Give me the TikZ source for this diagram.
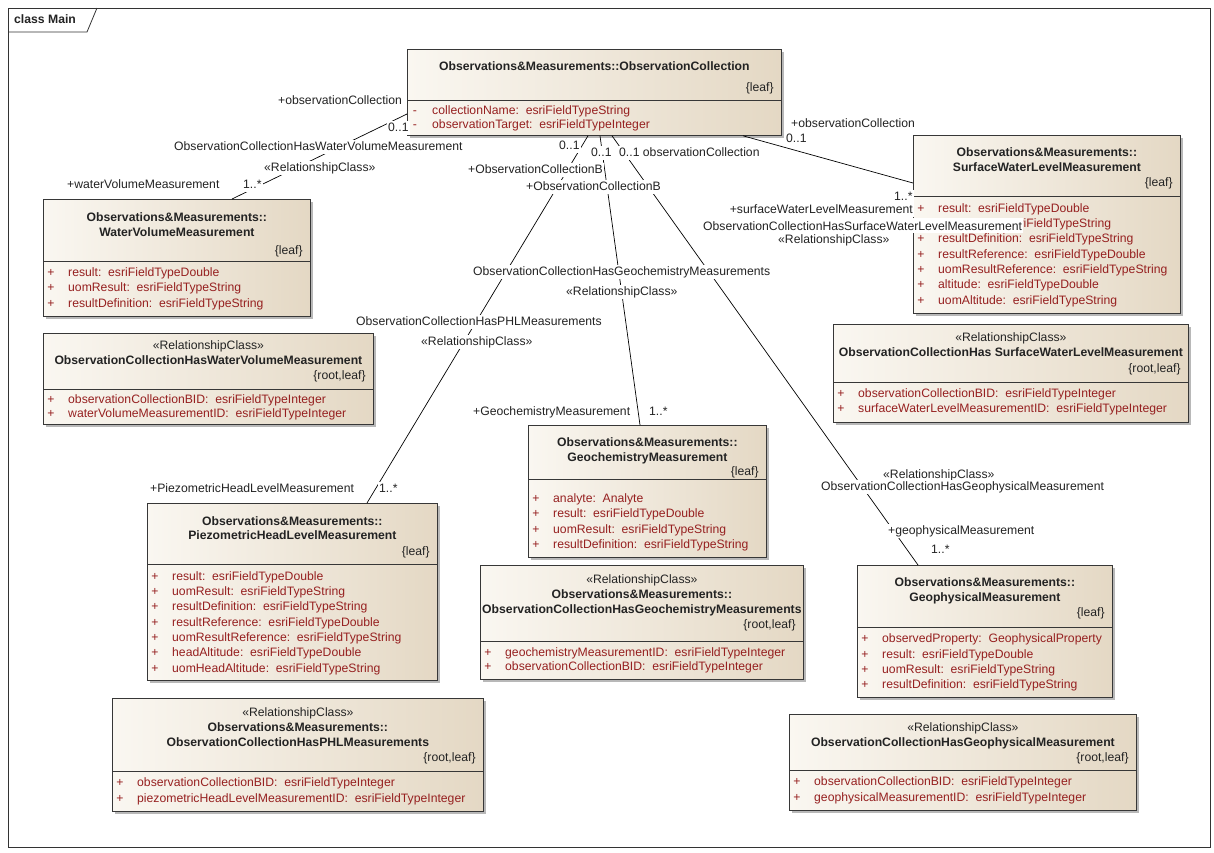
\documentclass[tikz,border=0pt]{standalone}
\usepackage{fontspec}
\setmainfont{Liberation Sans}
\usetikzlibrary{calc,shadows}

\definecolor{boxlight}{RGB}{250,247,241}
\definecolor{boxdark}{RGB}{228,216,196}
\definecolor{boxline}{RGB}{55,55,55}
\definecolor{attrred}{RGB}{150,32,32}
\definecolor{inkgray}{RGB}{35,35,35}

\newcommand\umlfont{\fontsize{12.2pt}{14pt}\selectfont}

% class box: name, left, top, right, bottom, y of the compartment line
\newcommand\umlclass[6]{%
  \node[classbox, minimum width={#4-#2}, minimum height={#5-#3}, anchor=north west] (#1) at (#2,#3) {};
  \draw[sepline] (#1.west |- 0,#6) -- (#1.east |- 0,#6);
}
% bold centred name line: box, index, y, text
\newcommand\umltitle[4]{\node[ttl] (#1-t#2) at (#1.center |- 0,#3) {#4};}
% stereotype line: box, y
\newcommand\umlstereo[2]{\node[stereo] (#1-st) at (#1.center |- 0,#2) {«RelationshipClass»};}
% right-aligned tag: box, y, text
\newcommand\umltag[3]{\node[tagtxt] (#1-tag) at ($(#1.east |- 0,#2)+(-8,0)$) {#3};}
% attribute row: box, index, y, visibility, text
\newcommand\umlattr[5]{%
  \node[attrsym] (#1-s#2) at ($(#1.west |- 0,#3)+(8,0)$) {#4};
  \node[attrtxt] (#1-a#2) at ($(#1.west |- 0,#3)+(25,0)$) {#5};
}
% association end label: name, x, y, text
\newcommand\assoclabel[4]{\node[lbl] (#1) at (#2,#3) {#4};}

\begin{document}
\begin{tikzpicture}[x=1pt,y=-1pt,
  classbox/.style={draw=boxline, line width=0.8pt, left color=boxlight, right color=boxdark,
    inner sep=0pt, drop shadow={shadow xshift=3pt, shadow yshift=-3pt, fill=black, opacity=0.28}},
  sepline/.style={draw=boxline, line width=0.8pt},
  frameline/.style={draw=black!80, line width=0.8pt},
  assoc/.style={draw=black, line width=0.7pt},
  txt/.style={font=\umlfont, inner sep=0pt, text height=8.8pt, text depth=2.6pt},
  ttl/.style={txt, font=\umlfont\bfseries, text=inkgray},
  stereo/.style={txt, text=inkgray},
  tagtxt/.style={txt, text=inkgray, anchor=east},
  attrsym/.style={txt, text=attrred, anchor=center},
  attrtxt/.style={txt, text=attrred, anchor=west},
  lbl/.style={txt, text=inkgray, fill=white, inner sep=1pt, anchor=west}]

\useasboundingbox (0,0) rectangle (1214,852);

% diagram frame with its name tab
\draw[frameline] (8,8) rectangle (1210,847);
\draw[frameline] (8,32) -- (87,32) -- (97,8);
\node[ttl, anchor=west] (frametitle) at (14,20) {class Main};

% ObservationCollection
\umlclass{oc}{407}{49}{781}{135}{100}
\umltitle{oc}{1}{67}{Observations\&Measurements::ObservationCollection}
\umltag{oc}{88}{\{leaf\}}
\umlattr{oc}{1}{111}{-}{collectionName:\ \ esriFieldTypeString}
\umlattr{oc}{2}{125}{-}{observationTarget:\ \ esriFieldTypeInteger}

% WaterVolumeMeasurement
\umlclass{wvm}{43}{199}{310}{316}{261}
\umltitle{wvm}{1}{218}{Observations\&Measurements::}
\umltitle{wvm}{2}{233}{WaterVolumeMeasurement}
\umltag{wvm}{251}{\{leaf\}}
\umlattr{wvm}{1}{273}{+}{result:\ \ esriFieldTypeDouble}
\umlattr{wvm}{2}{288}{+}{uomResult:\ \ esriFieldTypeString}
\umlattr{wvm}{3}{304}{+}{resultDefinition:\ \ esriFieldTypeString}

% ObservationCollectionHasWaterVolumeMeasurement
\umlclass{rcwvm}{43}{333}{373}{424}{389}
\umlstereo{rcwvm}{346}
\umltitle{rcwvm}{1}{361}{ObservationCollectionHasWaterVolumeMeasurement}
\umltag{rcwvm}{376}{\{root,leaf\}}
\umlattr{rcwvm}{1}{400}{+}{observationCollectionBID:\ \ esriFieldTypeInteger}
\umlattr{rcwvm}{2}{414}{+}{waterVolumeMeasurementID:\ \ esriFieldTypeInteger}

% SurfaceWaterLevelMeasurement
\umlclass{swlm}{913}{135}{1180}{313}{196}
\umltitle{swlm}{1}{153}{Observations\&Measurements::}
\umltitle{swlm}{2}{168}{SurfaceWaterLevelMeasurement}
\umltag{swlm}{183}{\{leaf\}}
\umlattr{swlm}{1}{209}{+}{result:\ \ esriFieldTypeDouble}
\umlattr{swlm}{2}{224}{+}{uomResult:\ \ esriFieldTypeString}
\umlattr{swlm}{3}{239}{+}{resultDefinition:\ \ esriFieldTypeString}
\umlattr{swlm}{4}{255}{+}{resultReference:\ \ esriFieldTypeDouble}
\umlattr{swlm}{5}{270}{+}{uomResultReference:\ \ esriFieldTypeString}
\umlattr{swlm}{6}{285}{+}{altitude:\ \ esriFieldTypeDouble}
\umlattr{swlm}{7}{301}{+}{uomAltitude:\ \ esriFieldTypeString}

% ObservationCollectionHasSurfaceWaterLevelMeasurement
\umlclass{rcswlm}{833}{324}{1188}{422}{382}
\umlstereo{rcswlm}{338}
\umltitle{rcswlm}{1}{353}{ObservationCollectionHas SurfaceWaterLevelMeasurement}
\umltag{rcswlm}{369}{\{root,leaf\}}
\umlattr{rcswlm}{1}{394}{+}{observationCollectionBID:\ \ esriFieldTypeInteger}
\umlattr{rcswlm}{2}{409}{+}{surfaceWaterLevelMeasurementID:\ \ esriFieldTypeInteger}

% GeochemistryMeasurement
\umlclass{gm}{528}{425}{766}{557}{479}
\umltitle{gm}{1}{443}{Observations\&Measurements::}
\umltitle{gm}{2}{458}{GeochemistryMeasurement}
\umltag{gm}{472}{\{leaf\}}
\umlattr{gm}{1}{499}{+}{analyte:\ \ Analyte}
\umlattr{gm}{2}{514}{+}{result:\ \ esriFieldTypeDouble}
\umlattr{gm}{3}{530}{+}{uomResult:\ \ esriFieldTypeString}
\umlattr{gm}{4}{545}{+}{resultDefinition:\ \ esriFieldTypeString}

% ObservationCollectionHasGeochemistryMeasurements
\umlclass{rcgm}{480}{565}{803}{679}{641}
\umlstereo{rcgm}{580}
\umltitle{rcgm}{1}{595}{Observations\&Measurements::}
\umltitle{rcgm}{2}{610}{ObservationCollectionHasGeochemistryMeasurements}
\umltag{rcgm}{625}{\{root,leaf\}}
\umlattr{rcgm}{1}{653}{+}{geochemistryMeasurementID:\ \ esriFieldTypeInteger}
\umlattr{rcgm}{2}{667}{+}{observationCollectionBID:\ \ esriFieldTypeInteger}

% PiezometricHeadLevelMeasurement
\umlclass{phl}{147}{503}{437}{680}{564}
\umltitle{phl}{1}{522}{Observations\&Measurements::}
\umltitle{phl}{2}{536}{PiezometricHeadLevelMeasurement}
\umltag{phl}{552}{\{leaf\}}
\umlattr{phl}{1}{577}{+}{result:\ \ esriFieldTypeDouble}
\umlattr{phl}{2}{592}{+}{uomResult:\ \ esriFieldTypeString}
\umlattr{phl}{3}{607}{+}{resultDefinition:\ \ esriFieldTypeString}
\umlattr{phl}{4}{623}{+}{resultReference:\ \ esriFieldTypeDouble}
\umlattr{phl}{5}{638}{+}{uomResultReference:\ \ esriFieldTypeString}
\umlattr{phl}{6}{653}{+}{headAltitude:\ \ esriFieldTypeDouble}
\umlattr{phl}{7}{669}{+}{uomHeadAltitude:\ \ esriFieldTypeString}

% ObservationCollectionHasPHLMeasurements
\umlclass{rcphl}{112}{698}{483}{811}{771}
\umlstereo{rcphl}{713}
\umltitle{rcphl}{1}{728}{Observations\&Measurements::}
\umltitle{rcphl}{2}{743}{ObservationCollectionHasPHLMeasurements}
\umltag{rcphl}{758}{\{root,leaf\}}
\umlattr{rcphl}{1}{783}{+}{observationCollectionBID:\ \ esriFieldTypeInteger}
\umlattr{rcphl}{2}{799}{+}{piezometricHeadLevelMeasurementID:\ \ esriFieldTypeInteger}

% GeophysicalMeasurement
\umlclass{gpm}{857}{565}{1112}{697}{627}
\umltitle{gpm}{1}{583}{Observations\&Measurements::}
\umltitle{gpm}{2}{598}{GeophysicalMeasurement}
\umltag{gpm}{613}{\{leaf\}}
\umlattr{gpm}{1}{639}{+}{observedProperty:\ \ GeophysicalProperty}
\umlattr{gpm}{2}{655}{+}{result:\ \ esriFieldTypeDouble}
\umlattr{gpm}{3}{670}{+}{uomResult:\ \ esriFieldTypeString}
\umlattr{gpm}{4}{685}{+}{resultDefinition:\ \ esriFieldTypeString}

% ObservationCollectionHasGeophysicalMeasurement
\umlclass{rcgpm}{789}{714}{1136}{810}{770}
\umlstereo{rcgpm}{728}
\umltitle{rcgpm}{1}{743}{ObservationCollectionHasGeophysicalMeasurement}
\umltag{rcgpm}{758}{\{root,leaf\}}
\umlattr{rcgpm}{1}{782}{+}{observationCollectionBID:\ \ esriFieldTypeInteger}
\umlattr{rcgpm}{2}{798}{+}{geophysicalMeasurementID:\ \ esriFieldTypeInteger}

% associations
\draw[assoc] (oc.west |- 0,114) -- (wvm.north -| 232,0);
\draw[assoc] (oc.south -| 588,0) -- (phl.north -| 367,0);
\draw[assoc] (oc.south -| 600,0) -- (gm.north -| 640,0);
\draw[assoc] (oc.south -| 612,0) -- (gpm.north -| 918,0);
\draw[assoc] (oc.south -| 743,0) -- (swlm.west |- 0,183);

% labels of the water volume association
\assoclabel{wvrole}{277}{101}{+observationCollection}
\assoclabel{wvmul}{387}{128}{0..1}
\assoclabel{wvname}{173}{147}{ObservationCollectionHasWaterVolumeMeasurement}
\assoclabel{wvst}{263}{168}{«RelationshipClass»}
\assoclabel{wvtrole}{66}{185}{+waterVolumeMeasurement}
\assoclabel{wvtmul}{242}{185}{1..*}

% labels of the piezometric head level association
\assoclabel{phmul}{558}{146}{0..1}
\assoclabel{phrole}{467}{170}{+ObservationCollectionB}
\assoclabel{phname}{355}{322}{ObservationCollectionHasPHLMeasurements}
\assoclabel{phst}{420}{342}{«RelationshipClass»}
\assoclabel{phtrole}{149}{489}{+PiezometricHeadLevelMeasurement}
\assoclabel{phtmul}{378}{489}{1..*}

% labels of the geochemistry association
\assoclabel{gcmul}{590}{153}{0..1}
\assoclabel{gcrole}{525}{187}{+ObservationCollectionB}
\assoclabel{gcname}{472}{272}{ObservationCollectionHasGeochemistryMeasurements}
\assoclabel{gcst}{565}{292}{«RelationshipClass»}
\assoclabel{gctrole}{472}{412}{+GeochemistryMeasurement}
\assoclabel{gctmul}{648}{412}{1..*}

% labels of the geophysical association
\assoclabel{gpmul}{618}{153}{0..1 observationCollection}
\assoclabel{gpst}{882}{475}{«RelationshipClass»}
\assoclabel{gpname}{820}{487}{ObservationCollectionHasGeophysicalMeasurement}
\assoclabel{gptrole}{887}{531}{+geophysicalMeasurement}
\assoclabel{gptmul}{930}{550}{1..*}

% labels of the surface water level association; its name label lies over the class box
\assoclabel{swrole}{790}{124}{+observationCollection}
\assoclabel{swmul}{785}{139}{0..1}
\assoclabel{swtmul}{893}{197}{1..*}
\node[lbl, anchor=east] (swtrole) at (914,210) {+surfaceWaterLevelMeasurement};
\node[lbl, text height=11.5pt, text depth=1.5pt] (swname) at (702,225.1) {ObservationCollectionHasSurfaceWaterLevelMeasurement};
\assoclabel{swst}{777}{240}{«RelationshipClass»}

\end{tikzpicture}
\end{document}
